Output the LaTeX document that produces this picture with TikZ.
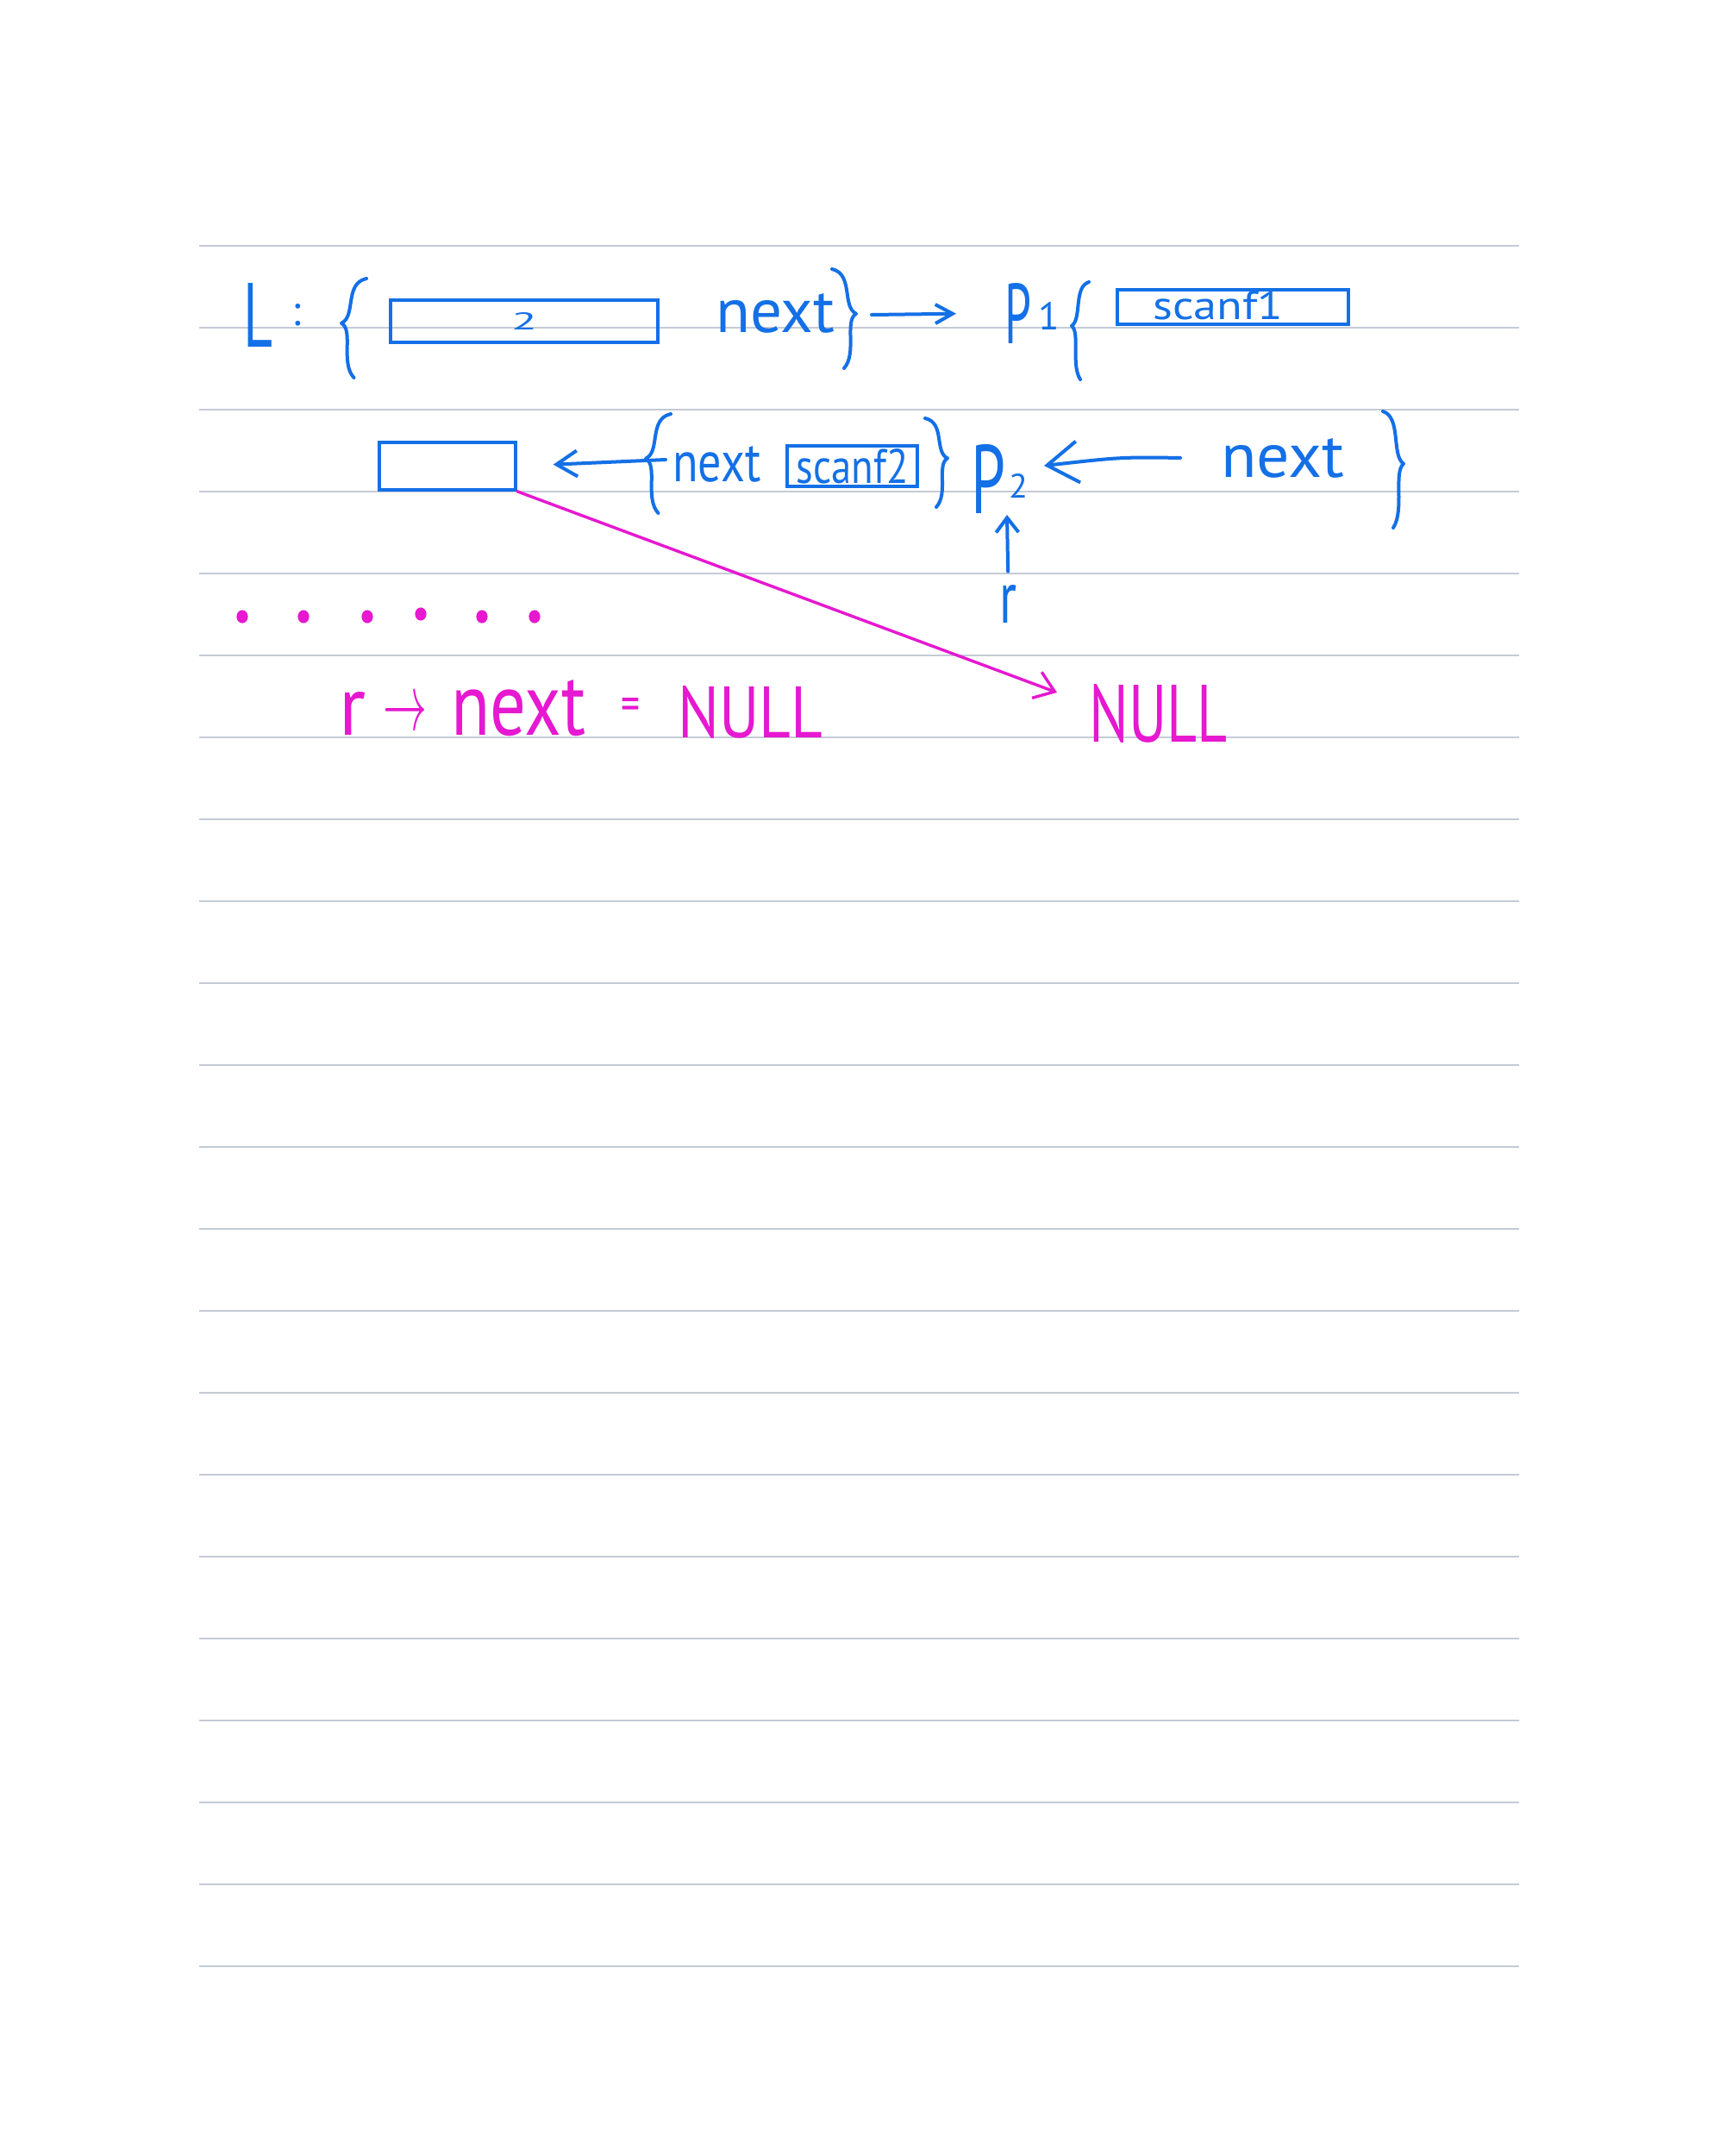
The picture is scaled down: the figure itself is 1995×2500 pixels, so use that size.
\documentclass[tikz,border=0pt]{standalone}
\usepackage{fontspec}
\setmainfont{PT Sans}
\usepackage{graphicx}
\usetikzlibrary{arrows.meta}
\definecolor{ink}{RGB}{20,112,230}
\definecolor{mag}{RGB}{230,24,208}
\definecolor{rulec}{RGB}{196,203,214}
\newcommand\hw[3]{\resizebox{#1pt}{#2pt}{#3}}
% hand-drawn left brace: style, x(left), top, bottom, width
\newcommand\handlb[5]{%
  \draw[#1] ({#2+#5},#3) .. controls ({#2+0.1*#5},{#3+0.05*(#4-#3)}) and ({#2+0.6*#5},{#3+0.38*(#4-#3)}) .. ({#2},{#3+0.45*(#4-#3)})
     .. controls ({#2+0.5*#5},{#3+0.52*(#4-#3)}) and ({#2-0.05*#5},{#3+0.85*(#4-#3)}) .. ({#2+0.5*#5},#4);}
% hand-drawn right brace
\newcommand\handrb[5]{%
  \draw[#1] ({#2},#3) .. controls ({#2+0.9*#5},{#3+0.05*(#4-#3)}) and ({#2+0.4*#5},{#3+0.38*(#4-#3)}) .. ({#2+#5},{#3+0.45*(#4-#3)})
     .. controls ({#2+0.5*#5},{#3+0.52*(#4-#3)}) and ({#2+1.05*#5},{#3+0.85*(#4-#3)}) .. ({#2+0.5*#5},#4);}
\tikzset{
  pen/.style={draw=ink, line width=2pt, line cap=round, line join=round},
  mpen/.style={draw=mag, line width=1.7pt, line cap=round, line join=round},
  cell/.style={draw=ink, line width=1.75pt, inner sep=0pt, text=ink},
  hwt/.style={inner sep=0pt, anchor=base west, text=ink},
  mwt/.style={inner sep=0pt, anchor=base west, text=mag},
}
\begin{document}
\begin{tikzpicture}[x=0.5pt,y=-0.5pt]
\useasboundingbox (0,0) rectangle (1995,2500);
\fill[white] (0,0) rectangle (1995,2500);
% ruled paper
\foreach \k in {0,...,21}
  \draw[rulec, line width=1pt] (231,{285+95*\k}) -- (1762,{285+95*\k});

% ---- row 1 ----
\node[hwt] (L) at (282,402) {\hw{17}{37}{L}\hspace{11pt}\raisebox{12.5pt}{\resizebox{!}{12.5pt}{:}}};
\handlb{pen}{396}{323}{438}{29}
\node[cell, minimum width=155pt, minimum height=24.5pt] (bxA) at (608,372.5) {\hw{15}{10}{2}};
\node[hwt] (nextA) at (830,385) {\hw{69}{22.5}{next}};
\handrb{pen}{965}{312}{427}{28}
\coordinate (a1s) at (1011,365);
\node[hwt] (Pone) at (1165,398) {\hw{15.5}{35}{P}\hspace{4pt}\raisebox{8pt}{\resizebox{!}{16pt}{1}}};
\draw[pen, -{Straight Barb[length=10pt,width=11pt]}, shorten >=28pt] (a1s) -- (Pone.west);
\handlb{pen}{1243}{327}{440}{20}
\node[cell, minimum width=134pt, minimum height=20pt] (bxB) at (1430,356) {};
\node[hwt] (scA) at (1337,370) {\hw{75.5}{16.5}{scanf1}};

% ---- row 2 ----
\node[cell, minimum width=79pt, minimum height=27.5pt] (bxC) at (519,540.5) {};
\coordinate (a2s) at (772,533);
\draw[pen, -{Straight Barb[length=12pt,width=15pt]}, shorten >=21pt] (a2s) -- (bxC.east);
\handlb{pen}{749}{480}{595}{29}
\node[hwt] (nextB) at (780,558) {\hw{51}{20.5}{next}};
\node[cell, minimum width=75.5pt, minimum height=23.5pt] (bxD) at (988.5,540.5) {\hw{65}{20}{scanf2}};
\handrb{pen}{1073}{485}{588}{26}
\node[hwt] (Ptwo) at (1126,595) {\hw{20}{40}{P}\hspace{2pt}\raisebox{9pt}{\hw{11}{14}{2}}};
\node[hwt] (nextC) at (1416,553) {\hw{71.5}{22.5}{next}};
\coordinate (a3e) at (1211,540);
\draw[pen, -{Straight Barb[length=18pt,width=24pt]}] ([xshift=-23.5pt]nextC.west) .. controls (1300,530) .. (a3e);
\handrb{pen}{1604}{477}{612}{24}
\node[hwt] (rB) at (1159,722) {\hw{10}{22}{r}};
\coordinate (a4e) at (1168,597);
\draw[pen, -{Straight Barb[length=8.5pt,width=13pt]}, shorten <=7.5pt] (rB.north) -- (a4e);

% ---- magenta ----
\coordinate (nullarr) at (1226,803);
\draw[mpen, -{Straight Barb[length=11pt,width=16pt]}] (bxC.south east) -- (nullarr);
\foreach \dx/\dy in {281/715, 352/715, 426/715, 488/712, 559/715, 620/715}
  \fill[mag] (\dx,\dy) ellipse [x radius=3.3pt, y radius=3.8pt];
\node[mwt] (rM) at (393,852) {\hw{15.5}{25}{r}};
\node[inner sep=0pt, text=mag] (arrM) at (470,829) {\resizebox{25.5pt}{17pt}{$\rightarrow$}};
\node[mwt] (nextM) at (523,852) {\hw{78}{32}{next}};
\node[inner sep=0pt, text=mag] (eqM) at (731,822) {\hw{11}{13}{=}};
\node[mwt] (nullM) at (786,855) {\hw{84}{30}{NULL}};
\node[mwt] (nullR) at (1263,860) {\hw{80}{33.5}{NULL}};
\end{tikzpicture}
\end{document}
